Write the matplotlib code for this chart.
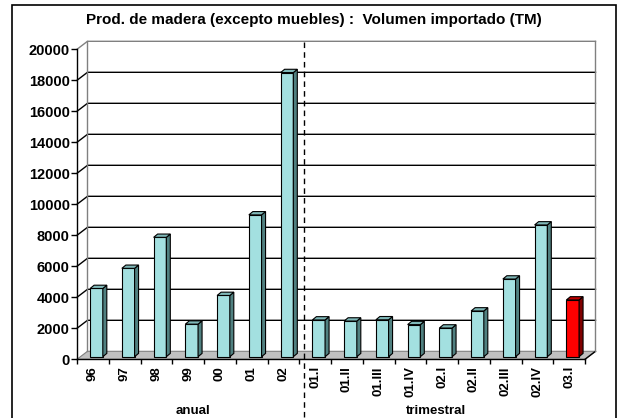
import numpy as np
import matplotlib.pyplot as plt
from matplotlib.patches import Polygon, Rectangle
from matplotlib.lines import Line2D
from matplotlib import transforms

plt.rcParams['font.family'] = ['Liberation Sans', 'DejaVu Sans']
plt.rcParams['font.weight'] = 'bold'

# data
labels = ['96', '97', '98', '99', '00', '01', '02',
          '01.I', '01.II', '01.III', '01.IV', '02.I', '02.II', '02.III', '02.IV', '03.I']
values = [4400, 5700, 7700, 2100, 3950, 9150, 18330,
          2370, 2300, 2380, 2070, 1850, 2950, 5010, 8500, 3660]
latest = '03.I'
groups = ['anual', 'trimestral']
group_pos = [3.65, 11.3]
yticks = np.arange(0, 20001, 2000)
title = 'Prod. de madera (excepto muebles) :  Volumen importado (TM)'

# fake 3D depth, in data units
WDX, WDY = 0.33, 516      # back wall offset
BOX, BOY = 0.113, 168     # bar front face offset
BDX, BDY = 0.126, 213     # bar depth
BAR_W = 0.40

W, H = 623, 418
fig = plt.figure(figsize=(W / 100, H / 100), dpi=100)
ax = fig.add_axes([77 / W, (H - 359.3) / H, 508 / W, 310 / H])
n = len(labels)
ax.set_xlim(0, n)
ax.set_ylim(0, 20000)
for s in ['top', 'right']:
    ax.spines[s].set_visible(False)
for s in ['left', 'bottom']:
    ax.spines[s].set_linewidth(1.0)
    ax.spines[s].set_zorder(2)

# floor
floor = Polygon([(0, 0), (n, 0), (n + WDX, WDY), (WDX, WDY)], closed=True,
                facecolor='#c0c0c0', edgecolor='#808080', lw=0.8, clip_on=False, zorder=1)
ax.add_patch(floor)
ax.add_line(Line2D([n, n + WDX], [0, WDY], color='black', lw=1, clip_on=False, zorder=1))

# grid on back wall + left wall
for v in yticks[1:]:
    col = '#808080' if v == yticks[-1] else 'black'
    ax.add_line(Line2D([0, WDX, n + WDX], [v, v + WDY, v + WDY],
                       color=col, lw=1, clip_on=False, zorder=1))
for xe in [WDX, n + WDX]:
    ax.add_line(Line2D([xe, xe], [WDY, yticks[-1] + WDY],
                       color='#808080', lw=1, clip_on=False, zorder=1))

# bars
x = np.arange(n) + 0.5 + BOX
for i, (xc, v) in enumerate(zip(x, values)):
    if labels[i] == latest:
        front, side, top = '#ff0000', '#800000', '#c00000'
    else:
        front, side, top = '#a3e0e0', '#508080', '#7fb8b8'
    ax.bar(xc, v, width=BAR_W, bottom=BOY, color=front, edgecolor='black',
           lw=0.8, zorder=3, clip_on=False)
    l, r, b = xc - BAR_W / 2, xc + BAR_W / 2, BOY
    ax.add_patch(Polygon([(r, b), (r, b + v), (r + BDX, b + v + BDY), (r + BDX, b + BDY)],
                         closed=True, facecolor=side, edgecolor='black', lw=0.8,
                         zorder=3, clip_on=False))
    ax.add_patch(Polygon([(l, b + v), (r, b + v), (r + BDX, b + v + BDY), (l + BDX, b + v + BDY)],
                         closed=True, facecolor=top, edgecolor='black', lw=0.8,
                         zorder=3, clip_on=False))

# ticks
ax.set_xticks(np.arange(n) + 0.5)
ax.set_xticklabels(labels, rotation=90, fontsize=9.5, fontweight='bold')
ax.set_xticks(np.arange(n + 1), minor=True)
ax.tick_params(axis='x', which='major', length=0, pad=5)
ax.tick_params(axis='x', which='minor', length=3.6, width=1, direction='out')
ax.set_yticks(yticks)
ax.set_yticklabels([str(t) for t in yticks], fontsize=10.5, fontweight='bold')
ax.tick_params(axis='y', length=4.3, width=1, pad=1)

# separator and group labels
bt = transforms.blended_transform_factory(ax.transData, fig.transFigure)
fig.add_artist(Line2D([7.15, 7.15], [1 - 42 / H, 0], transform=bt, color='black',
                      lw=1, linestyle=(0, (4, 3))))
for g, p in zip(groups, group_pos):
    fig.text(p, 1 - 411.5 / H, g, transform=bt, ha='center', va='center',
             fontsize=9.5, fontweight='bold')

fig.text(314 / W, 1 - 20 / H, title, ha='center', va='center', fontsize=11, fontweight='bold')

fig.add_artist(Rectangle((12 / W, -0.02), 604 / W, 1 - 5 / H + 0.02, transform=fig.transFigure,
                         fill=False, edgecolor='black', lw=1.2))

fig.savefig('out.png', dpi=100)
